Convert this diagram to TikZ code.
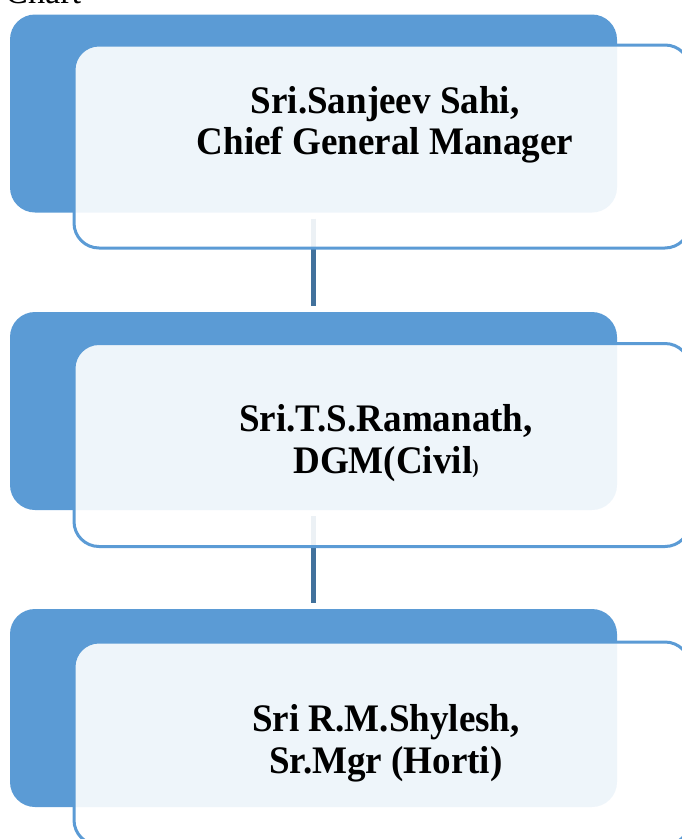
\documentclass[tikz,border=0pt]{standalone}
\usepackage{fontspec}
\setmainfont{Liberation Serif}
\newfontfamily\condserif[FakeStretch=0.95]{Liberation Serif}
\begin{document}
\begin{tikzpicture}[x=1pt,y=-1pt]
\definecolor{boxblue}{HTML}{5B9BD5}
\definecolor{linkblue}{HTML}{41719C}
\tikzset{
  backbox/.style={rectangle, fill=boxblue, draw=none, rounded corners=25pt,
    minimum width=607pt, minimum height=198pt, inner sep=0pt},
  frontbox/.style={rectangle, fill=white, fill opacity=0.9, draw=boxblue,
    draw opacity=1, line width=3pt, rounded corners=25pt,
    minimum width=616pt, minimum height=203pt, inner sep=0pt},
  link/.style={draw=linkblue, line width=5pt, shorten <=6pt, shorten >=6pt},
  persontext/.style={font=\condserif\bfseries\fontsize{39}{41.5}\selectfont, align=center,
    inner sep=0pt, text=black},
  titletext/.style={anchor=base west, inner sep=0pt, font=\condserif\fontsize{36}{40}\selectfont}
}
\useasboundingbox (0,0) rectangle (681,839);
\node[titletext] (title) at (5,3) {Chart};
% back boxes
\node[backbox] (b1) at (313.5,113.5) {};
\node[backbox] (b2) at (313.5,411) {};
\node[backbox] (b3) at (313.5,708) {};
% connectors
\draw[link] (b1.south) -- (b2.north);
\draw[link] (b2.south) -- (b3.north);
% front boxes
\node[frontbox] (f1) at (382,146.5) {};
\node[frontbox] (f2) at (382,445) {};
\node[frontbox] (f3) at (382,743.5) {};
% texts
\node[persontext] (t1) at (385,125) {Sri.Sanjeev Sahi,\\ Chief General Manager};
\node[persontext] (t2) at (386,443) {Sri.T.S.Ramanath,\\DGM(Civil{\fontsize{20}{20}\selectfont)}};
\node[persontext] (t3) at (386,743.5) {Sri R.M.Shylesh,\\Sr.Mgr (Horti)};
\end{tikzpicture}
\end{document}
